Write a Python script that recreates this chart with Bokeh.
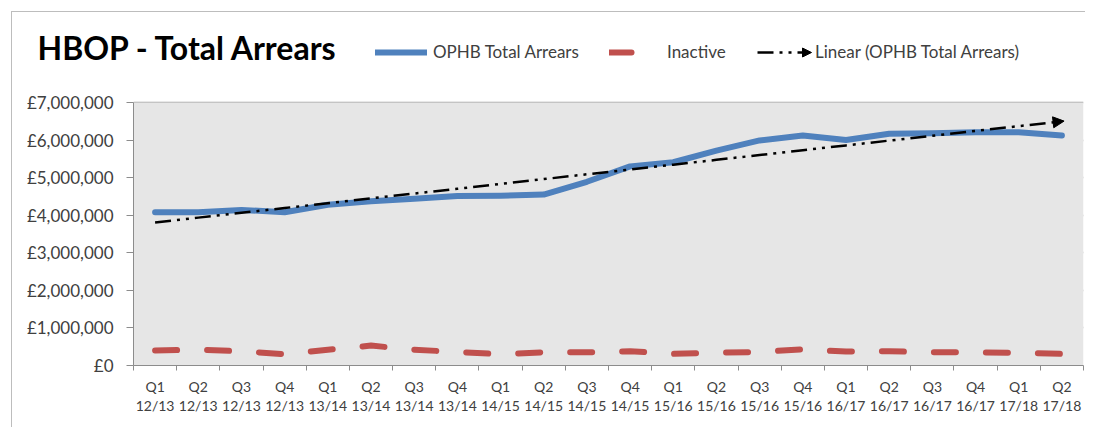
import numpy as np
from bokeh.plotting import figure
from bokeh.layouts import column
from bokeh.models import (Range1d, FixedTicker, Legend, LegendItem, BoxAnnotation,
                          Arrow, NormalHead, ColumnDataSource)
from bokeh.embed import file_html
from bokeh.resources import INLINE

# ---------------- data ----------------
categories = ["Q1 12/13", "Q2 12/13", "Q3 12/13", "Q4 12/13",
              "Q1 13/14", "Q2 13/14", "Q3 13/14", "Q4 13/14",
              "Q1 14/15", "Q2 14/15", "Q3 14/15", "Q4 14/15",
              "Q1 15/16", "Q2 15/16", "Q3 15/16", "Q4 15/16",
              "Q1 16/17", "Q2 16/17", "Q3 16/17", "Q4 16/17",
              "Q1 17/18", "Q2 17/18"]
total_arrears = [4080000, 4080000, 4140000, 4080000, 4280000, 4370000,
                 4440000, 4510000, 4520000, 4550000, 4890000, 5300000,
                 5410000, 5720000, 5990000, 6120000, 6000000, 6170000,
                 6180000, 6210000, 6210000, 6120000]
inactive = [400000, 420000, 380000, 300000, 420000, 530000, 420000, 360000,
            300000, 350000, 350000, 380000, 310000, 340000, 360000, 430000,
            370000, 380000, 350000, 350000, 340000, 310000]
y_ticks = [0, 1000000, 2000000, 3000000, 4000000, 5000000, 6000000, 7000000]
y_labels = ["£0", "£1,000,000", "£2,000,000", "£3,000,000", "£4,000,000",
            "£5,000,000", "£6,000,000", "£7,000,000"]
title_text = "HBOP - Total Arrears"
series_names = ["OPHB Total Arrears", "Inactive", "Linear (OPHB Total Arrears)"]

# ---------------- derived ----------------
n = len(categories)
xs = [i + 0.5 for i in range(n)]
slope, intercept = np.polyfit(np.arange(n), np.array(total_arrears, float), 1)
trend = [float(intercept + slope * i) for i in range(n)]
y_top = y_ticks[-1]

src = ColumnDataSource(dict(x=xs, total=total_arrears, inactive=inactive, trend=trend))

FONT = "Lato"
TXT = "#404040"
BLUE, RED = "#4f81bd", "#c0504d"

# layout geometry (page pixels)
CANVAS_TOP = 12
FRAME_TOP = 36          # frame extends above the plot area to hold the legend
AREA_TOP = 102          # where the top tick sits
FRAME_BOTTOM = 365
FRAME_LEFT = 133
y_max = y_top * (FRAME_BOTTOM - FRAME_TOP) / (FRAME_BOTTOM - AREA_TOP)

p = figure(width=1073, height=415, output_backend="svg", toolbar_location=None,
           x_range=Range1d(0, n), y_range=Range1d(0, y_max),
           min_border_left=121, min_border_right=2,
           min_border_top=FRAME_TOP - CANVAS_TOP, min_border_bottom=62)
p.outline_line_color = None
p.background_fill_color = "white"
p.border_fill_color = "white"
p.add_layout(BoxAnnotation(left=0, right=n, bottom=0, top=y_top, fill_color="#e6e6e6",
                           fill_alpha=1, line_color=None, level="underlay"))

# title
p.title.text = title_text
p.title.align = "left"
p.title.offset = -96
p.title.standoff = -60
p.title.text_font = FONT
p.title.text_font_style = "bold"
p.title.text_font_size = "32px"
p.title.text_color = "black"

p.xgrid.visible = False
p.ygrid.grid_line_color = "#a3a3a3"
p.ygrid.grid_line_width = 1.5

p.yaxis.ticker = FixedTicker(ticks=y_ticks, minor_ticks=[])
p.yaxis.bounds = (0, y_top)
p.yaxis.major_label_overrides = {t: l for t, l in zip(y_ticks, y_labels)}
p.yaxis.axis_line_color = "#8c8c8c"
p.yaxis.major_tick_line_color = "#8c8c8c"
p.yaxis.major_tick_out = 7
p.yaxis.major_tick_in = 0
p.yaxis.minor_tick_line_color = None
p.yaxis.major_label_standoff = 13
p.yaxis.major_label_text_font = FONT
p.yaxis.major_label_text_font_size = "17px"
p.yaxis.major_label_text_color = TXT

p.xaxis.ticker = FixedTicker(ticks=xs, minor_ticks=list(range(n + 1)))
p.xaxis.major_label_overrides = {x: c.replace(" ", "\n") for x, c in zip(xs, categories)}
p.xaxis.axis_line_color = "#8c8c8c"
p.xaxis.major_tick_line_color = None
p.xaxis.minor_tick_line_color = "#8c8c8c"
p.xaxis.minor_tick_out = 5
p.xaxis.minor_tick_in = 0
p.xaxis.major_label_standoff = 6
p.xaxis.major_label_text_font = FONT
p.xaxis.major_label_text_font_size = "14px"
p.xaxis.major_label_text_color = TXT
p.xaxis.major_label_text_line_height = 1.15

r_total = p.line("x", "total", source=src, line_color=BLUE, line_width=6,
                 line_join="round", line_cap="round")
r_inact = p.line("x", "inactive", source=src, line_color=RED, line_width=6,
                 line_dash="22 30", line_cap="round", line_join="round")
r_trend = p.line("x", "trend", source=src, line_color="black", line_width=2.5,
                 line_dash="16 6 3 6 3 6")
p.add_layout(Arrow(end=NormalHead(size=11, fill_color="black", line_color="black"),
                   x_start=xs[-1] - 0.3, y_start=float(intercept + slope * (n - 1 - 0.3)),
                   x_end=xs[-1] + 0.05, y_end=float(intercept + slope * (n - 1 + 0.05)),
                   line_alpha=0))

# legends, one per item, in the band above the plot area
legend_x = [375 - FRAME_LEFT, 609 - FRAME_LEFT, 757 - FRAME_LEFT]
legend_y = FRAME_BOTTOM - 62
for nm, r, lx in zip(series_names, [r_total, r_inact, r_trend], legend_x):
    p.add_layout(Legend(items=[LegendItem(label=nm, renderers=[r])],
                        location=(lx, legend_y), orientation="horizontal",
                        padding=0, margin=0, spacing=0, glyph_width=52,
                        glyph_height=20, label_height=20, label_standoff=6,
                        label_text_font=FONT, label_text_font_size="17px",
                        label_text_color=TXT, border_line_color=None,
                        background_fill_alpha=0))

# arrow head on the trend legend sample
p.add_layout(Arrow(end=NormalHead(size=9, fill_color="black", line_color="black"),
                   x_start=legend_x[2] + 44, y_start=legend_y + 10, start_units="screen",
                   x_end=legend_x[2] + 54, y_end=legend_y + 10, end_units="screen",
                   line_alpha=0))

layout = column(p, margin=(11, 0, 0, 11),
                styles={"border-left": "1px solid #bdbdbd", "border-top": "1px solid #bdbdbd"})

open("out.html", "w").write(file_html(layout, INLINE))
